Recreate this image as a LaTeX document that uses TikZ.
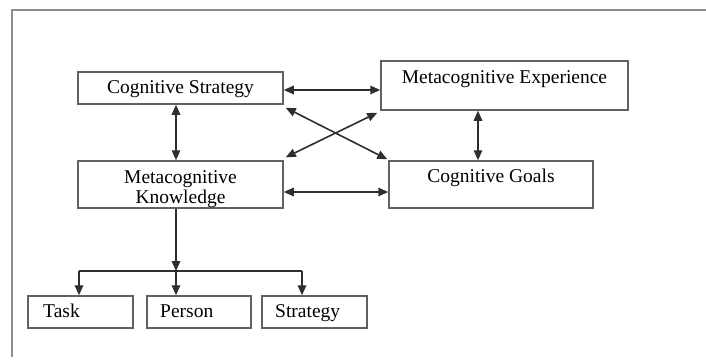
\documentclass[tikz,border=0pt]{standalone}
\usepackage{fontspec}
\setmainfont{Liberation Serif}
\usetikzlibrary{arrows.meta}
\begin{document}
\begin{tikzpicture}[x=1pt,y=-1pt,
  box/.style={draw=black!62,line width=1.5pt,inner sep=0pt},
  lbl/.style={font=\fontsize{19.5}{22}\selectfont,inner sep=0pt,text=black},
  link/.style={draw=black!82,line width=1.6pt},
  tip/.style={-{Triangle[length=10pt,width=8.5pt]}},
  tips/.style={{Triangle[length=10pt,width=8.5pt]}-{Triangle[length=10pt,width=8.5pt]}}]
  \useasboundingbox (0,0) rectangle (706,359);
  % outer frame
  \draw[black!45,line width=1.2pt] (706,10) -- (12,10) -- (12,357);

  % boxes
  \node[box,minimum width=205pt,minimum height=32pt] (cs) at (180.5,88) {};
  \node[lbl,anchor=base] at (180.5,93) {Cognitive Strategy};
  \node[box,minimum width=247pt,minimum height=49pt] (me) at (504.5,85.5) {};
  \node[lbl,anchor=base] at (504.5,83) {Metacognitive Experience};
  \node[box,minimum width=205pt,minimum height=47pt] (mk) at (180.5,184.5) {};
  \node[lbl,anchor=base] at (180.5,183) {Metacognitive};
  \node[lbl,anchor=base] at (180.5,203) {Knowledge};
  \node[box,minimum width=204pt,minimum height=47pt] (cg) at (491,184.5) {};
  \node[lbl,anchor=base] at (491,182) {Cognitive Goals};

  \node[box,minimum width=105pt,minimum height=32pt] (task) at (80.5,312) {};
  \node[lbl,anchor=base west] at (43,317) {Task};
  \node[box,minimum width=104pt,minimum height=32pt] (person) at (199,312) {};
  \node[lbl,anchor=base west] at (160,317) {Person};
  \node[box,minimum width=105pt,minimum height=32pt] (strat) at (314.5,312) {};
  \node[lbl,anchor=base west] at (275,317) {Strategy};

  % two-way links
  \draw[link,tips] (cs.east |- 0,90) -- (me.west |- 0,90);
  \draw[link,tips] (cs.south -| 176,0) -- (mk.north -| 176,0);
  \draw[link,tips] (me.south -| 478,0) -- (cg.north -| 478,0);
  \draw[link,tips] (mk.east |- 0,192) -- (cg.west |- 0,192);
  \path (cs.south east) ++(2,3) coordinate (a1) (cg.north west) ++(-1,-1) coordinate (a2);
  \draw[link,tips] (a1) -- (a2);
  \path (me.south west) ++(-3,2) coordinate (b1) (mk.north east) ++(2,-3) coordinate (b2);
  \draw[link,tips] (b1) -- (b2);

  % knowledge branches
  \coordinate (j) at (176,271);
  \draw[link,tip] (mk.south -| 176,0) -- (j);
  \draw[link] (79,271) -- (302,271);
  \draw[link,tip] (79,271) -- (task.north -| 79,0);
  \draw[link,tip] (j) -- (person.north -| 176,0);
  \draw[link,tip] (302,271) -- (strat.north -| 302,0);
\end{tikzpicture}
\end{document}
